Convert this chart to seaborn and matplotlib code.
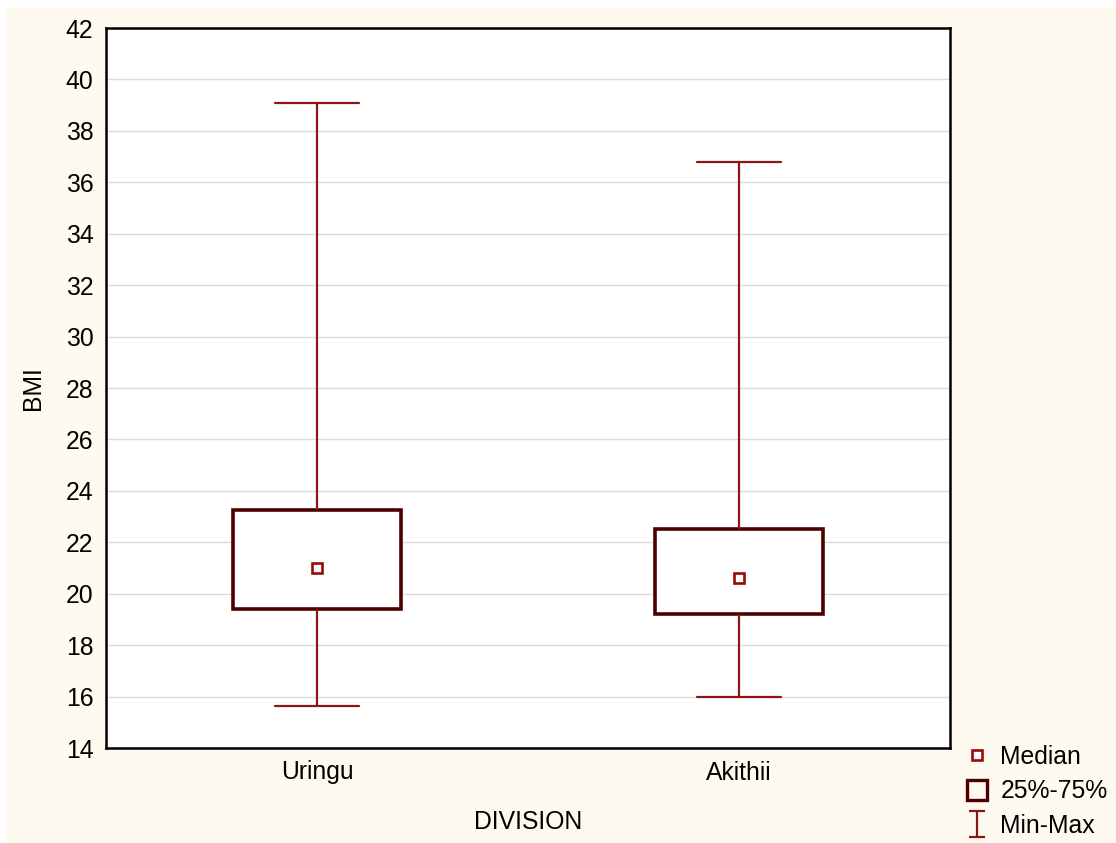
import numpy as np
import pandas as pd
import matplotlib
matplotlib.use("Agg")
import matplotlib.pyplot as plt
from matplotlib.lines import Line2D
from matplotlib.path import Path
from matplotlib.patches import Rectangle
import seaborn as sns

# ---- data ----
divisions = ["Uringu", "Akithii"]
bmi_min = [15.65, 16.0]
bmi_q1 = [19.4, 19.2]
bmi_median = [21.0, 20.6]
bmi_q3 = [23.25, 22.5]
bmi_max = [39.1, 36.8]
y_ticks = [14, 16, 18, 20, 22, 24, 26, 28, 30, 32, 34, 36, 38, 40, 42]
legend_labels = ["Median", "25%-75%", "Min-Max"]

# five-number summaries as long data (linear percentiles reproduce them exactly)
rows = []
for d, a, b, c, e, f in zip(divisions, bmi_min, bmi_q1, bmi_median, bmi_q3, bmi_max):
    for v in (a, b, c, e, f):
        rows.append({"DIVISION": d, "BMI": v})
df = pd.DataFrame(rows)

sns.set_theme(style="white")
plt.rcParams["font.family"] = ["Liberation Sans", "DejaVu Sans"]
plt.rcParams["text.color"] = "black"
plt.rcParams["axes.labelcolor"] = "black"
plt.rcParams["xtick.color"] = "black"
plt.rcParams["ytick.color"] = "black"

BOX_EDGE = "#4E0000"
WHISK = "#8E1515"
MED = "#9A0A0A"
CREAM = "#FFFAF0"
FS = 17.8

fig = plt.figure(figsize=(11.16, 8.43), dpi=100, facecolor="white")
fig.patches.append(Rectangle((7 / 1116, 0), 1, 1 - 7 / 843, transform=fig.transFigure,
                             facecolor=CREAM, edgecolor="none", zorder=-10))
ax = fig.add_axes([106 / 1116, 1 - 748 / 843, (950 - 106) / 1116, (748 - 28) / 843])
ax.set_facecolor("white")

sns.boxplot(data=df, x="DIVISION", y="BMI", ax=ax, whis=(0, 100), width=0.4,
            showfliers=False,
            boxprops=dict(facecolor="white", edgecolor=BOX_EDGE, linewidth=2.6),
            whiskerprops=dict(color=WHISK, linewidth=1.6),
            capprops=dict(color=WHISK, linewidth=1.6),
            medianprops=dict(visible=False))

sns.pointplot(data=df, x="DIVISION", y="BMI", ax=ax, estimator="median", errorbar=None,
              linestyle="none", marker="s", markersize=7.0, markeredgewidth=1.9,
              markerfacecolor="white", markeredgecolor=MED, color=MED)

ax.set_ylim(14, 42)
ax.set_xlim(-0.5, 1.5)
ax.set_yticks(y_ticks)
ax.yaxis.grid(True, color="#dcdcdc", linewidth=1.0)
ax.set_axisbelow(True)
for s in ax.spines.values():
    s.set_color("black")
    s.set_linewidth(1.8)
ax.tick_params(axis="both", direction="in", length=4, width=1.2, colors="black",
               labelcolor="black", labelsize=FS, pad=9)
ax.set_xlabel("DIVISION", fontsize=FS, color="black")
ax.set_ylabel("BMI", fontsize=FS, color="black")
ax.xaxis.set_label_coords(0.5, (748 - 810) / 720)
ax.yaxis.set_label_coords((45 - 106) / 844, 0.5)

# legend
ibeam = Path([(-0.6, 1), (0.6, 1), (0, 1), (0, -1), (-0.6, -1), (0.6, -1)],
             [Path.MOVETO, Path.LINETO, Path.MOVETO, Path.LINETO, Path.MOVETO, Path.LINETO])
handles = [
    Line2D([], [], linestyle="none", marker="s", markersize=7.5, markeredgewidth=1.9,
           markerfacecolor="white", markeredgecolor=MED),
    Line2D([], [], linestyle="none", marker="s", markersize=15, markeredgewidth=2.4,
           markerfacecolor="none", markeredgecolor=BOX_EDGE),
    Line2D([], [], linestyle="none", marker=ibeam, markersize=19, markeredgewidth=1.6,
           markerfacecolor="none", markeredgecolor=WHISK),
]
leg = fig.legend(handles, legend_labels, loc="upper left",
                 bbox_to_anchor=(962 / 1116, 1 - 745 / 843), frameon=False,
                 fontsize=FS, handlelength=1.2, handletextpad=0.35, labelspacing=0.42,
                 borderpad=0, borderaxespad=0)
for t in leg.get_texts():
    t.set_color("black")

fig.savefig("out.png", dpi=100, facecolor=fig.get_facecolor())
